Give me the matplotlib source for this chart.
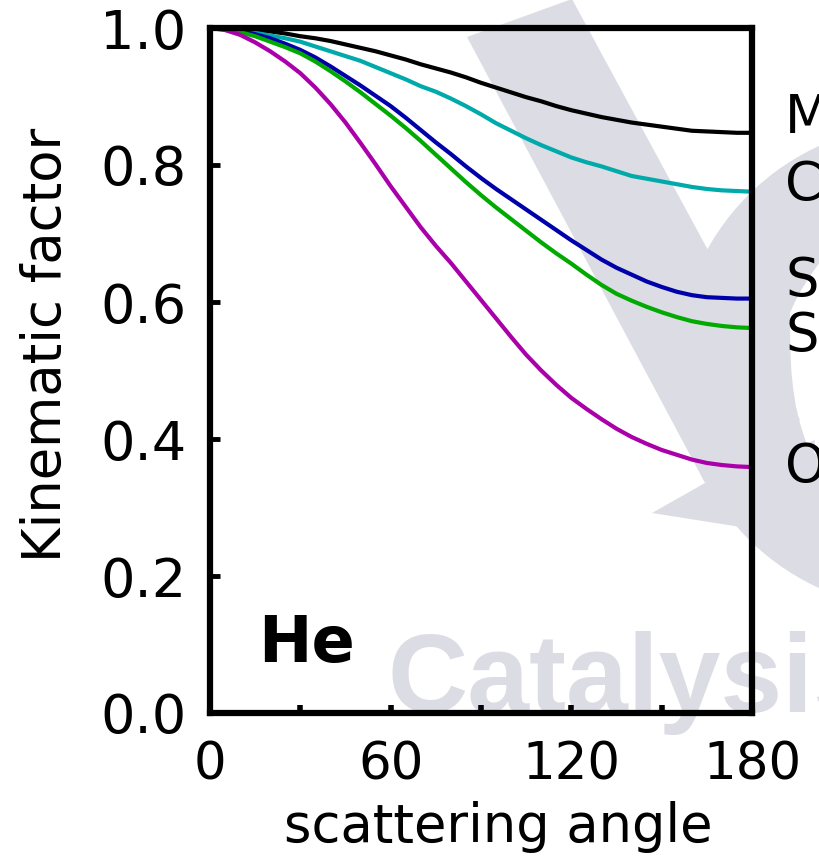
import matplotlib
matplotlib.use("Agg")
import matplotlib.pyplot as plt
from matplotlib.patches import Polygon, PathPatch
from matplotlib.path import Path
from matplotlib.transforms import Affine2D
import numpy as np

# scattering angle (deg) and He kinematic factor for each target element
angle = list(range(0, 181, 5))
k_mo = [1.000, 1.000, 0.999, 0.997, 0.995, 0.992, 0.988, 0.985, 0.981, 0.976,
        0.971, 0.966, 0.960, 0.954, 0.947, 0.941, 0.935, 0.928, 0.920, 0.913,
        0.906, 0.899, 0.893, 0.886, 0.880, 0.875, 0.870, 0.866, 0.862, 0.859,
        0.856, 0.853, 0.850, 0.849, 0.848, 0.847, 0.847]
k_co = [1.000, 0.999, 0.997, 0.993, 0.989, 0.985, 0.980, 0.973, 0.966, 0.959,
        0.952, 0.943, 0.934, 0.925, 0.915, 0.907, 0.897, 0.886, 0.874, 0.861,
        0.850, 0.839, 0.829, 0.820, 0.811, 0.804, 0.798, 0.791, 0.784, 0.780,
        0.776, 0.772, 0.768, 0.765, 0.763, 0.762, 0.761]
k_s = [1.000, 0.999, 0.996, 0.991, 0.985, 0.977, 0.968, 0.957, 0.944, 0.930,
       0.916, 0.901, 0.886, 0.869, 0.851, 0.833, 0.816, 0.798, 0.781, 0.765,
       0.750, 0.735, 0.720, 0.705, 0.690, 0.676, 0.662, 0.650, 0.640, 0.630,
       0.622, 0.615, 0.610, 0.607, 0.606, 0.605, 0.605]
k_si = [1.000, 0.998, 0.994, 0.988, 0.980, 0.972, 0.963, 0.951, 0.937, 0.922,
        0.906, 0.889, 0.872, 0.854, 0.835, 0.815, 0.795, 0.775, 0.756, 0.738,
        0.721, 0.704, 0.687, 0.671, 0.656, 0.640, 0.625, 0.612, 0.602, 0.593,
        0.585, 0.578, 0.572, 0.568, 0.565, 0.563, 0.562]
k_o = [1.000, 0.997, 0.990, 0.979, 0.966, 0.951, 0.934, 0.913, 0.889, 0.862,
       0.832, 0.801, 0.769, 0.739, 0.709, 0.682, 0.657, 0.630, 0.603, 0.576,
       0.549, 0.523, 0.500, 0.479, 0.460, 0.444, 0.429, 0.415, 0.403, 0.393,
       0.384, 0.377, 0.370, 0.365, 0.362, 0.360, 0.359]

elements = ["Mo", "Co", "S", "Si", "O"]
curves = [k_mo, k_co, k_s, k_si, k_o]
colors = ["#000000", "#00aaaa", "#0000aa", "#00aa00", "#aa00aa"]
label_nudge = [0.022, 0.010, 0.026, -0.012, 0.0]

xticks = [0, 30, 60, 90, 120, 150, 180]
xticklabels = ["0", "", "60", "", "120", "", "180"]
yticks = [0.0, 0.2, 0.4, 0.6, 0.8, 1.0]

W, H = 819, 856
fig = plt.figure(figsize=(W / 100, H / 100), dpi=100)
fig.patch.set_facecolor("white")

# pixel coordinates (origin top-left) -> figure
px = Affine2D().scale(1 / W, -1 / H).translate(0, 1) + fig.transFigure

# faint logo behind the plot
wm = "#dcdce4"
band = Polygon([(467, 37), (572, -1), (800, 420), (705, 483)], closed=True,
               transform=px, facecolor=wm, edgecolor="none", zorder=-2)
arrow = Polygon([(705, 483), (652, 513), (804, 537), (815, 440)], closed=True,
                transform=px, facecolor=wm, edgecolor="none", zorder=-2)
outer = Path.circle((920, 367), 243)
inner = Path.circle((960, 358), 170)
ring_path = Path(np.concatenate([outer.vertices, inner.vertices[::-1]]),
                 np.concatenate([outer.codes, inner.codes]))
ring = PathPatch(ring_path, transform=px, facecolor=wm, edgecolor="none", zorder=-2)
for p in (band, arrow, ring):
    fig.add_artist(p)
fig.text(387 / W, 1 - 712 / H, "Catalysis", color=wm, fontsize=80,
         fontweight="bold", family=["Liberation Sans", "DejaVu Sans"],
         ha="left", va="baseline", zorder=-1)

ax = fig.add_axes([210 / W, 1 - 713 / H, 542 / W, 685 / H])
ax.patch.set_visible(False)

for k, c in zip(curves, colors):
    ax.plot(angle, k, color=c, lw=3.0, solid_capstyle="butt")

for name, k, dy in zip(elements, curves, label_nudge):
    ax.text(191, k[-1] + dy, name, fontsize=38, ha="left", va="center",
            clip_on=False)

ax.text(16, 0.075, "He", fontsize=46, fontweight="bold", ha="left", va="baseline")

ax.set_xlim(0, 180)
ax.set_ylim(0, 1)
ax.set_xticks(xticks)
ax.set_xticklabels(xticklabels)
ax.set_yticks(yticks)
ax.set_yticklabels([f"{v:.1f}" for v in yticks])
ax.tick_params(axis="x", direction="in", length=6, width=4, labelsize=37, pad=20)
ax.tick_params(axis="y", direction="in", length=7, width=3.5, labelsize=39, pad=17)
for s in ax.spines.values():
    s.set_linewidth(4.5)

ax.set_xlabel("scattering angle", fontsize=38, va="top")
ax.xaxis.set_label_coords(0.531, -0.128)
ax.set_ylabel("Kinematic factor", fontsize=38)
ax.yaxis.set_label_coords(-0.255, 0.537)

fig.savefig("out.png", dpi=100)
